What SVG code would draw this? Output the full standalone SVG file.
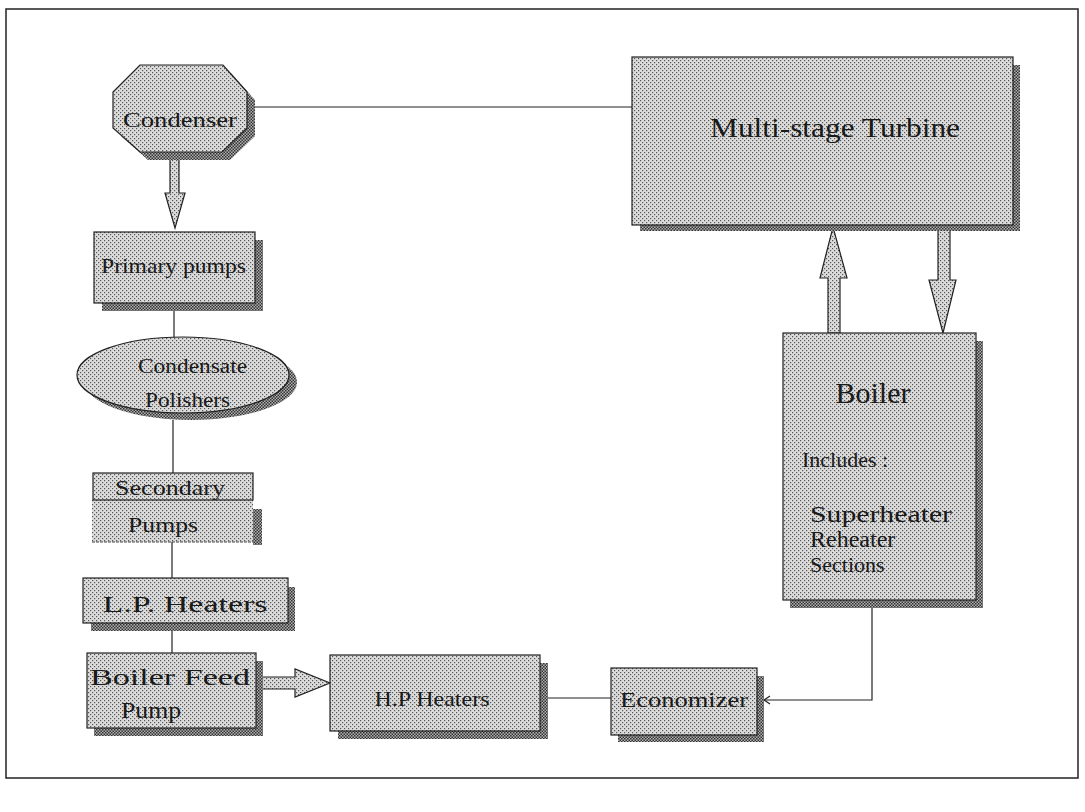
<svg xmlns="http://www.w3.org/2000/svg" width="1085" height="812" viewBox="0 0 1085 812">
<style>
text{font-family:"Liberation Serif","Times New Roman",serif;fill:#1a1a1a}
.box{fill:url(#dots);stroke:#222;stroke-width:1.2}
.sh{fill:url(#dark)}
.ln{stroke:#222;stroke-width:1.2;fill:none}
.arr{fill:url(#dots);stroke:#222;stroke-width:1.2}
</style>
<defs>
<pattern id="dots" width="4" height="4" patternUnits="userSpaceOnUse">
<rect width="4" height="4" fill="#dcdcdc"/>
<rect x="0" y="0" width="1.2" height="1.2" fill="#555"/>
<rect x="2" y="2" width="1.2" height="1.2" fill="#555"/>
</pattern>
<pattern id="dark" width="3" height="3" patternUnits="userSpaceOnUse">
<rect width="3" height="3" fill="#b0b0b0"/>
<rect x="0" y="0" width="1.5" height="1.5" fill="#333"/>
<rect x="1.5" y="1.5" width="1.5" height="1.5" fill="#333"/>
</pattern>
</defs>
<rect x="6" y="9" width="1072" height="769" fill="#fff" stroke="#222" stroke-width="1.5"/>

<g id="connectors">
<line class="ln" x1="255" y1="107" x2="632" y2="107"/>
<line class="ln" x1="174" y1="303" x2="174" y2="338"/>
<line class="ln" x1="173" y1="420" x2="173" y2="473"/>
<line class="ln" x1="172" y1="542" x2="172" y2="578"/>
<line class="ln" x1="172" y1="630" x2="172" y2="653"/>
<line class="ln" x1="547" y1="698" x2="611" y2="698"/>
<polyline class="ln" points="872,608 872,700 764,700"/>
<polyline class="ln" points="770,696 764,700 770,704"/>
<polygon class="arr" points="170,152 179,152 179,193 185,193 175,228 165,193 170,193"/>
<polygon class="arr" points="828,333 840,333 840,278 847,278 833,227 820,278 828,278"/>
<polygon class="arr" points="938,227 950,227 950,280 956,280 943,333 929,280 938,280"/>
<polygon class="arr" points="256,677 295,677 295,669 330,683 295,697 295,689 256,689"/>
</g>

<g id="condenser">
<polygon class="sh" points="148,73 231,73 255,100 255,136 230,160 148,160 121,136 121,100"/>
<polygon class="box" points="140,65 223,65 247,92 247,128 222,152 140,152 113,128 113,92"/>
<text x="180" y="127" font-size="22" text-anchor="middle" textLength="114" lengthAdjust="spacingAndGlyphs">Condenser</text>
</g>

<g id="turbine">
<rect class="sh" x="640" y="65" width="380" height="166"/>
<rect class="box" x="632" y="57" width="381" height="168"/>
<text x="710" y="137" font-size="28" textLength="250" lengthAdjust="spacingAndGlyphs">Multi-stage Turbine</text>
</g>

<g id="primary-pumps">
<rect class="sh" x="102" y="240" width="161" height="71"/>
<rect class="box" x="94" y="232" width="161" height="71"/>
<text x="101" y="273" font-size="21" textLength="145" lengthAdjust="spacingAndGlyphs">Primary pumps</text>
</g>

<g id="polishers">
<ellipse class="sh" cx="191" cy="382" rx="106" ry="38"/>
<ellipse class="box" cx="183" cy="375" rx="106" ry="38"/>
<text x="138" y="373" font-size="20" textLength="109" lengthAdjust="spacingAndGlyphs">Condensate</text>
<text x="145" y="407" font-size="20" textLength="85" lengthAdjust="spacingAndGlyphs">Polishers</text>
</g>

<g id="secondary-pumps">
<rect class="sh" x="253" y="509" width="9" height="36"/>
<rect x="92" y="500" width="161" height="42" fill="url(#dots)"/>
<line x1="92" y1="542" x2="253" y2="542" stroke="#444" stroke-width="1.2" stroke-dasharray="3 1"/>
<rect class="box" x="93" y="473" width="160" height="27"/>
<text x="115" y="495" font-size="21" textLength="110" lengthAdjust="spacingAndGlyphs">Secondary</text>
<text x="128" y="532" font-size="21" textLength="70" lengthAdjust="spacingAndGlyphs">Pumps</text>
</g>

<g id="lp-heaters">
<rect class="sh" x="91" y="587" width="204" height="44"/>
<rect class="box" x="83" y="578" width="205" height="45"/>
<text x="185" y="612" font-size="24" text-anchor="middle" textLength="165" lengthAdjust="spacingAndGlyphs">L.P. Heaters</text>
</g>

<g id="bfp">
<rect class="sh" x="94" y="661" width="169" height="75"/>
<rect class="box" x="87" y="653" width="169" height="75"/>
<text x="90" y="685" font-size="23" textLength="160" lengthAdjust="spacingAndGlyphs">Boiler Feed</text>
<text x="121" y="718" font-size="23" textLength="60" lengthAdjust="spacingAndGlyphs">Pump</text>
</g>

<g id="hp-heaters">
<rect class="sh" x="338" y="663" width="210" height="76"/>
<rect class="box" x="330" y="655" width="210" height="76"/>
<text x="432" y="706" font-size="22" text-anchor="middle" textLength="115" lengthAdjust="spacingAndGlyphs">H.P Heaters</text>
</g>

<g id="economizer">
<rect class="sh" x="618" y="676" width="146" height="66"/>
<rect class="box" x="611" y="668" width="146" height="67"/>
<text x="684" y="707" font-size="20" text-anchor="middle" textLength="128" lengthAdjust="spacingAndGlyphs">Economizer</text>
</g>

<g id="boiler">
<rect class="sh" x="790" y="341" width="193" height="267"/>
<rect class="box" x="783" y="333" width="193" height="267"/>
<text x="873" y="403" font-size="30" text-anchor="middle">Boiler</text>
<text x="802" y="467" font-size="22">Includes :</text>
<text x="810" y="522" font-size="24" textLength="142" lengthAdjust="spacingAndGlyphs">Superheater</text>
<text x="810" y="547" font-size="24">Reheater</text>
<text x="810" y="572" font-size="22">Sections</text>
</g>
</svg>
